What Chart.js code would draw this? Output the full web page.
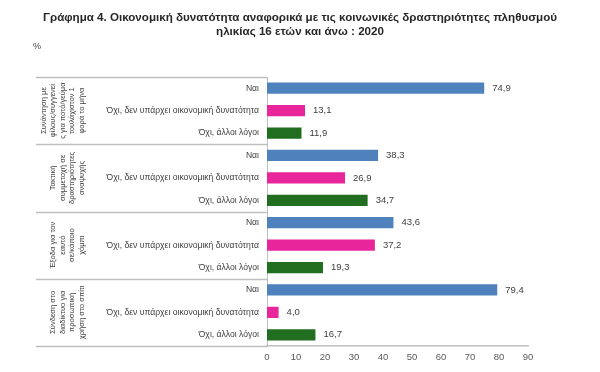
<!DOCTYPE html>
<html>
<head>
<meta charset="utf-8">
<script src="https://cdn.jsdelivr.net/npm/chart.js@4"></script>
<style>
html,body{margin:0;padding:0;background:#fff;}
#wrap{position:relative;width:600px;height:372px;}
</style>
</head>
<body>
<div id="wrap"><canvas id="c" width="600" height="372"></canvas></div>
<script>
const titleLines = ["Γράφημα 4. Οικονομική δυνατότητα αναφορικά με τις κοινωνικές δραστηριότητες πληθυσμού", "ηλικίας 16 ετών και άνω : 2020"];
const unitLabel = "%";
const groups = [
  ["Συνάντηση με","φίλους/συγγενεί","ς για ποτό/γεύμα","τουλάχιστον 1","φορά το μήνα"],
  ["Τακτική","συμμετοχή σε","δραστηριότητες","αναψυχής"],
  ["Έξοδα για τον","εαυτό","σε/κάποιο","χόμπι"],
  ["Σύνδεση στο","διαδίκτυο για","προσωπική","χρήση στο σπίτι"]
];
const answers = ["Ναι", "Όχι, δεν υπάρχει οικονομική δυνατότητα", "Όχι, άλλοι λόγοι"];
const yesValues = [74.9, 38.3, 43.6, 79.4];
const noMoneyValues = [13.1, 26.9, 37.2, 4.0];
const noOtherValues = [11.9, 34.7, 19.3, 16.7];
const seriesColors = ["#4f81bd", "#e8259b", "#216e21"];
const xTicks = [0,10,20,30,40,50,60,70,80,90];

const series = [yesValues, noMoneyValues, noOtherValues];
const labels = [], values = [], colors = [];
groups.forEach((g, gi) => {
  answers.forEach((a, ai) => {
    labels.push(a);
    values.push(series[ai][gi]);
    colors.push(seriesColors[ai]);
  });
});

const FONT = "'Liberation Sans', Arial, sans-serif";

const decorPlugin = {
  id: 'decor',
  afterDraw(chart) {
    const ctx = chart.ctx;
    const ca = chart.chartArea;
    ctx.save();
    // title
    ctx.fillStyle = '#262626';
    ctx.font = "bold 11.6px " + FONT;
    ctx.textAlign = 'center';
    ctx.textBaseline = 'middle';
    ctx.fillText(titleLines[0], 300, 18);
    ctx.fillText(titleLines[1], 300, 32);
    ctx.font = "9px " + FONT;
    ctx.textAlign = 'left';
    ctx.fillStyle = '#404040';
    ctx.fillText(unitLabel, 33, 47);
    // separators
    const n = groups.length;
    const step = (ca.bottom - ca.top) / n;
    ctx.strokeStyle = '#bfbfbf';
    ctx.lineWidth = 1.5;
    for (let i = 0; i <= n; i++) {
      const y = Math.round(ca.top + i * step) + 0.5;
      ctx.beginPath();
      ctx.moveTo(36, y);
      ctx.lineTo(ca.left, y);
      ctx.stroke();
    }
    // group labels
    ctx.fillStyle = '#404040';
    ctx.font = "7.6px " + FONT;
    ctx.textAlign = 'center';
    ctx.textBaseline = 'middle';
    groups.forEach((lines, gi) => {
      const yc = ca.top + (gi + 0.5) * step;
      lines.forEach((ln, li) => {
        const x = 82 - (lines.length - 1 - li) * 9.6;
        ctx.save();
        ctx.translate(x, yc);
        ctx.rotate(-Math.PI / 2);
        ctx.fillText(ln, 0, 0);
        ctx.restore();
      });
    });
    // data labels
    const meta = chart.getDatasetMeta(0);
    ctx.font = "9.5px " + FONT;
    ctx.textAlign = 'left';
    ctx.fillStyle = '#404040';
    meta.data.forEach((bar, i) => {
      const v = values[i];
      ctx.fillText(v.toFixed(1).replace('.', ','), bar.x + 8, bar.y);
    });
    ctx.restore();
  }
};

new Chart(document.getElementById('c'), {
  type: 'bar',
  data: {
    labels: labels,
    datasets: [{
      data: values,
      backgroundColor: colors,
      borderWidth: 0,
      barPercentage: 0.5,
      categoryPercentage: 1.0
    }]
  },
  options: {
    indexAxis: 'y',
    responsive: false,
    animation: false,
    devicePixelRatio: 1,
    layout: { padding: { top: 77, right: 72, bottom: 0, left: 0 } },
    plugins: { legend: { display: false }, tooltip: { enabled: false }, title: { display: false } },
    scales: {
      x: {
        min: 0, max: 90,
        afterBuildTicks(scale) { scale.ticks = xTicks.map(v => ({ value: v })); },
        afterFit(scale) { scale.height = 26; },
        grid: { display: false, drawTicks: false },
        border: { display: true, color: '#bfbfbf', width: 1.5 },
        ticks: { padding: 6, color: '#595959', font: { family: FONT, size: 9.5 } }
      },
      y: {
        afterFit(scale) { scale.width = 267; },
        grid: { display: false, drawTicks: false },
        border: { display: true, color: '#bfbfbf', width: 1 },
        ticks: { padding: 8, color: '#404040', font: { family: FONT, size: 8.6 }, autoSkip: false }
      }
    }
  },
  plugins: [decorPlugin]
});
</script>
</body>
</html>
